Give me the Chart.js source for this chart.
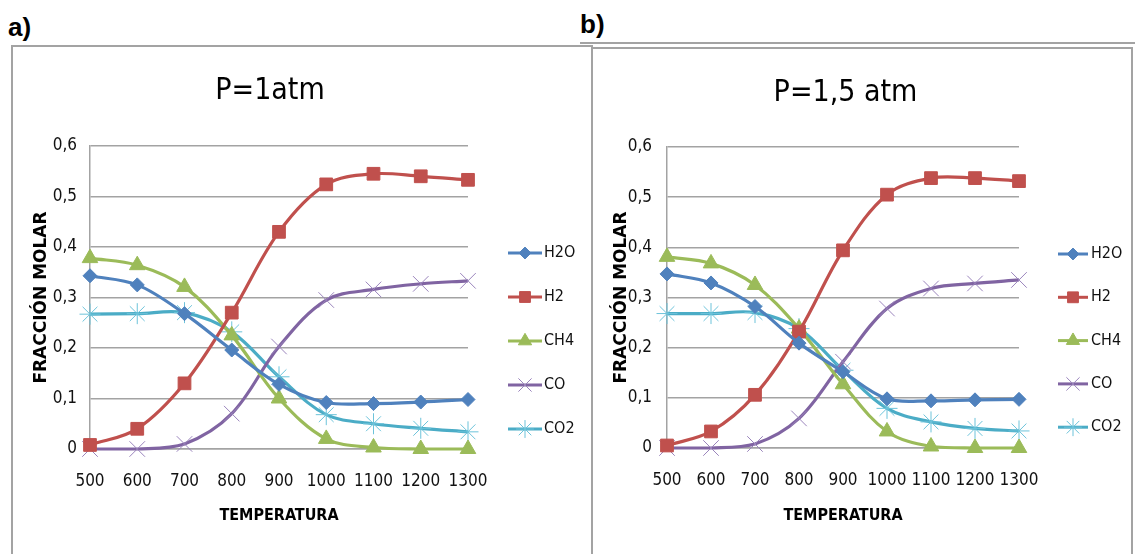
<!DOCTYPE html>
<html>
<head>
<meta charset="UTF-8">
<title>Fracción molar vs temperatura</title>
<script src="https://cdn.jsdelivr.net/npm/chart.js"></script>
<style>
  body { margin: 0; width: 1135px; height: 554px; background: #fff; overflow: hidden; position: relative; font-family: 'Liberation Sans', Arial, sans-serif; }
  .tag { position: absolute; font-weight: bold; font-size: 26px; line-height: 26px; color: #000; }
  .box { position: absolute; border: 2px solid #a3a3a3; background: #fff; overflow: hidden; }
  #boxA { left: 11px; top: 45px; width: 578px; height: 520px; }
  #boxB { left: 591px; top: 47px; width: 538px; height: 520px; }
  #rule { position: absolute; left: 580px; top: 42px; width: 555px; border-top: 2px solid #a3a3a3; }
  canvas { display: block; }
</style>
</head>
<body>
<div class="tag" style="left:8px; top:14px;">a)</div>
<div class="tag" style="left:580px; top:11px;">b)</div>
<div id="rule"></div>
<div class="box" id="boxA"><canvas id="chartA" width="578" height="507"></canvas></div>
<div class="box" id="boxB"><canvas id="chartB" width="538" height="505"></canvas></div>
<script>
    // datos
    var temps = ['500', '600', '700', '800', '900', '1000', '1100', '1200', '1300'];
    var yTickLabels = ['0', '0,1', '0,2', '0,3', '0,4', '0,5', '0,6'];
    var names = ['H2O', 'H2', 'CH4', 'CO', 'CO2'];

    // P = 1 atm
    var h2oA = [0.343, 0.325, 0.268, 0.196, 0.128, 0.092, 0.090, 0.093, 0.098];
    var h2A  = [0.008, 0.040, 0.130, 0.270, 0.430, 0.524, 0.545, 0.540, 0.533];
    var ch4A = [0.378, 0.364, 0.321, 0.225, 0.100, 0.020, 0.003, 0.000, 0.000];
    var coA  = [0.000, 0.000, 0.010, 0.070, 0.203, 0.295, 0.316, 0.327, 0.333];
    var co2A = [0.267, 0.268, 0.270, 0.232, 0.143, 0.068, 0.050, 0.041, 0.034];

    // P = 1,5 atm
    var h2oB = [0.347, 0.329, 0.282, 0.209, 0.152, 0.098, 0.094, 0.096, 0.097];
    var h2B  = [0.005, 0.033, 0.106, 0.232, 0.394, 0.505, 0.538, 0.538, 0.532];
    var ch4B = [0.381, 0.368, 0.325, 0.238, 0.127, 0.033, 0.003, 0.000, 0.000];
    var coB  = [0.000, 0.000, 0.008, 0.059, 0.172, 0.278, 0.318, 0.328, 0.335];
    var co2B = [0.268, 0.268, 0.270, 0.238, 0.155, 0.079, 0.052, 0.039, 0.034];

    // estilo de cada serie (colores de Excel)
    var lineColors  = ['#4F81BD', '#C0504D', '#9BBB59', '#8064A2', '#4BACC6'];
    var pointColors = ['#4F81BD', '#C0504D', '#9BBB59', '#9a84bc', '#6cc3da'];
    var pointStyles = ['rectRot', 'rect', 'triangle', 'crossRot', 'star'];
    var pointSizes  = [7, 9, 9, 11, 10.5];

    var narrow = "'Liberation Sans Narrow', 'Arial Narrow', 'DejaVu Sans Condensed', sans-serif";
    var gridColor = '#a3a3a3';
    var textColor = '#111';

    // leyenda con linea + marcador, como en Excel
    var lineLegend = {
        id: 'lineLegend',
        afterDraw: function (chart, args, opts) {
            var ctx = chart.ctx;
            chart.data.datasets.forEach(function (ds, i) {
                var y = opts.y0 + i * opts.dy;
                ctx.save();
                ctx.strokeStyle = ds.borderColor;
                ctx.lineWidth = 3;
                ctx.beginPath();
                ctx.moveTo(opts.x0, y);
                ctx.lineTo(opts.x1, y);
                ctx.stroke();
                ctx.fillStyle = ds.pointBackgroundColor;
                ctx.strokeStyle = ds.pointBorderColor;
                ctx.lineWidth = ds.pointBorderWidth;
                Chart.helpers.drawPoint(ctx, {
                    pointStyle: ds.pointStyle,
                    radius: ds.pointRadius * 0.85,
                    rotation: 0,
                    borderWidth: ds.pointBorderWidth
                }, (opts.x0 + opts.x1) / 2, y);
                ctx.fillStyle = textColor;
                ctx.font = '16px ' + narrow;
                ctx.textBaseline = 'middle';
                ctx.textAlign = 'left';
                ctx.fillText(ds.label, opts.xText, y);
                ctx.restore();
            });
        }
    };

    function makeChart(id, title, series, lay) {
        var datasets = series.map(function (values, i) {
            return {
                label: names[i],
                data: values,
                borderColor: lineColors[i],
                backgroundColor: lineColors[i],
                borderWidth: 3.2,
                tension: 0.35,
                pointStyle: pointStyles[i],
                pointRadius: pointSizes[i],
                pointHoverRadius: pointSizes[i],
                pointBackgroundColor: pointColors[i],
                pointBorderColor: pointColors[i],
                pointBorderWidth: 1,
                clip: false
            };
        });

        var tickFont = { family: narrow, size: 17 };

        return new Chart(document.getElementById(id), {
            type: 'line',
            data: { labels: temps, datasets: datasets },
            plugins: [lineLegend],
            options: {
                responsive: false,
                animation: false,
                layout: { padding: { left: 0, right: lay.padRight, top: 0, bottom: 0 } },
                plugins: {
                    legend: { display: false },
                    tooltip: { enabled: false },
                    title: {
                        display: true,
                        text: title,
                        color: '#000',
                        font: { family: narrow, size: 30, weight: 'normal' },
                        padding: { top: lay.titleTop, bottom: lay.titleBottom }
                    },
                    lineLegend: lay.legend
                },
                scales: {
                    x: {
                        type: 'category',
                        offset: false,
                        grid: { display: false, drawTicks: false },
                        border: { display: true, color: gridColor, width: 1.5 },
                        ticks: { padding: lay.xTickPad, font: tickFont, color: textColor, maxRotation: 0, autoSkip: false },
                        title: {
                            display: true,
                            text: 'TEMPERATURA',
                            color: '#000',
                            font: { family: narrow, size: 16, weight: 'bold' },
                            padding: { top: 0, bottom: lay.xTitlePad }
                        },
                        afterFit: function (s) { s.height = lay.xHeight; }
                    },
                    y: {
                        min: 0,
                        max: 0.6,
                        grid: { color: gridColor, lineWidth: 1.5, drawTicks: false },
                        border: { display: true, color: gridColor, width: 1.5 },
                        ticks: {
                            stepSize: 0.1,
                            padding: lay.yTickPad,
                            font: tickFont,
                            color: textColor,
                            callback: function (v) { return yTickLabels[Math.round(v * 10)]; }
                        },
                        title: {
                            display: true,
                            text: 'FRACCIÓN MOLAR',
                            color: '#000',
                            font: { family: "'DejaVu Sans', sans-serif", size: 17, weight: 'bold' },
                            padding: { top: lay.yTitlePad, bottom: 0 }
                        },
                        afterFit: function (s) { s.width = lay.yWidth; }
                    },
                    // hueco a la derecha para la leyenda
                    y2: {
                        position: 'right',
                        grid: { display: false, drawTicks: false },
                        border: { display: false },
                        ticks: { display: false },
                        afterFit: function (s) { s.width = lay.rightGap; }
                    }
                }
            }
        });
    }

    makeChart('chartA', 'P=1atm', [h2oA, h2A, ch4A, coA, co2A], {
        padRight: 64, rightGap: 59,
        titleTop: 26.5, titleBottom: 36.5,
        yWidth: 77, yTickPad: 13, yTitlePad: 18.8,
        xHeight: 105, xTickPad: 22, xTitlePad: 29,
        legend: { x0: 495, x1: 529, xText: 531, y0: 206, dy: 44 }
    });

    makeChart('chartB', 'P=1,5 atm', [h2oB, h2B, ch4B, coB, co2B], {
        padRight: 33, rightGap: 79,
        titleTop: 26.5, titleBottom: 35.5,
        yWidth: 74, yTickPad: 15, yTitlePad: 18.8,
        xHeight: 106, xTickPad: 22, xTitlePad: 29,
        legend: { x0: 465, x1: 495, xText: 498, y0: 205, dy: 43.3 }
    });
</script>
</body>
</html>
